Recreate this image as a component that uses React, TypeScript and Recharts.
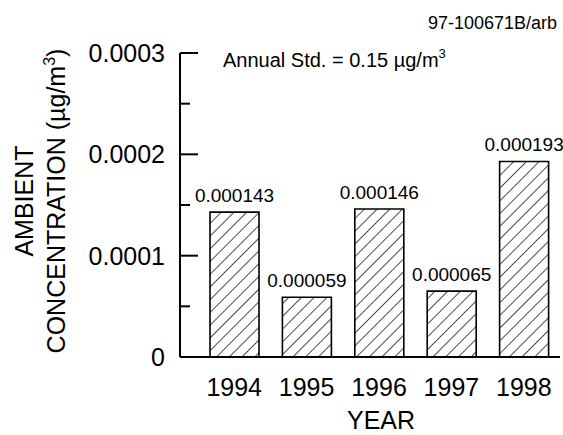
import React from 'react';
import { BarChart, Bar, XAxis, YAxis, LabelList, Label } from 'recharts';

const years = ['1994', '1995', '1996', '1997', '1998'];
const concentrations = [0.000143, 0.000059, 0.000146, 0.000065, 0.000193];
const yTicks = [0, 0.00005, 0.0001, 0.00015, 0.0002, 0.00025, 0.0003];
const yTickLabels = ['0', '', '0.0001', '', '0.0002', '', '0.0003'];
const figureId = '97-100671B/arb';
const annotationText = 'Annual Std. = 0.15 µg/m';
const xTitle = 'YEAR';
const yTitleLine1 = 'AMBIENT';
const yTitleLine2 = 'CONCENTRATION (µg/m';

const data = years.map((year, i) => ({ year, value: concentrations[i] }));

const FONT = '"Liberation Sans", Arial, Helvetica, sans-serif';

const YTick = (props: any) => {
  const { x, y, index } = props;
  const label = yTickLabels[index] ?? '';
  const major = label !== '';
  const axisX = x + 15;
  return (
    <g>
      <line x1={axisX} x2={axisX + (major ? 18 : 10)} y1={y} y2={y} stroke="#000" strokeWidth={2} />
      {major && (
        <text x={x} y={y} dy="0.355em" textAnchor="end" fontSize={25} fill="#000" fontFamily={FONT}>
          {label}
        </text>
      )}
    </g>
  );
};

const XTick = (props: any) => {
  const { x, y, payload } = props;
  return (
    <text x={x} y={y} dy="0.71em" textAnchor="middle" fontSize={25} fill="#000" fontFamily={FONT}>
      {payload.value}
    </text>
  );
};

const YTitle = (props: any) => {
  const vb = props.viewBox || { x: 0, y: 53, width: 180, height: 304 };
  const cy = vb.y + vb.height / 2 - 4;
  const x1 = vb.x + 24;
  const x2 = vb.x + 56;
  return (
    <g fontFamily={FONT} fontSize={25} fill="#000">
      <text x={x1} y={cy} dy="0.358em" textAnchor="middle" transform={`rotate(-90, ${x1}, ${cy})`}>
        {yTitleLine1}
      </text>
      <text x={x2} y={cy} dy="0.358em" textAnchor="middle" transform={`rotate(-90, ${x2}, ${cy})`}>
        {yTitleLine2}
        <tspan dy={-10} fontSize={16}>3</tspan>
        <tspan dy={10}>)</tspan>
      </text>
    </g>
  );
};

const XTitle = (props: any) => {
  const vb = props.viewBox || { x: 180, y: 357, width: 380, height: 78 };
  return (
    <text
      x={vb.x + vb.width / 2 + 11}
      y={vb.y + vb.height - 6}
      textAnchor="middle"
      fontSize={25}
      fill="#000"
      fontFamily={FONT}
    >
      {xTitle}
    </text>
  );
};

export default function App() {
  return (
    <div style={{ position: 'absolute', left: 0, top: 0, width: 563, height: 435, background: '#fff' }}>
      <svg width={0} height={0} style={{ position: 'absolute' }}>
        <defs>
          <pattern id="hatch" patternUnits="userSpaceOnUse" width={9} height={9} patternTransform="rotate(45)">
            <line x1={0} y1={0} x2={0} y2={9} stroke="#000" strokeWidth={1.4} />
          </pattern>
        </defs>
      </svg>
      <BarChart
        width={563}
        height={435}
        data={data}
        margin={{ top: 53, right: 3, bottom: 0, left: 0 }}
      >
        <XAxis
          dataKey="year"
          height={78}
          axisLine={{ stroke: '#000', strokeWidth: 2 }}
          tickLine={false}
          tickSize={0}
          tickMargin={21}
          padding={{ left: 18, right: 0 }}
          tick={<XTick />}
          interval={0}
        >
          <Label content={<XTitle />} position="insideBottom" />
        </XAxis>
        <YAxis
          width={180}
          domain={[0, 0.0003]}
          ticks={yTicks}
          interval={0}
          axisLine={{ stroke: '#000', strokeWidth: 2 }}
          tickLine={false}
          tickSize={0}
          tickMargin={15}
          tick={<YTick />}
        >
          <Label content={<YTitle />} position="insideLeft" />
        </YAxis>
        <Bar
          dataKey="value"
          barSize={49}
          fill="url(#hatch)"
          stroke="#000"
          strokeWidth={1.6}
          isAnimationActive={false}
        >
          <LabelList
            dataKey="value"
            position="top"
            offset={10}
            formatter={(v: any) => Number(v).toFixed(6)}
            fontSize={19}
            fill="#000"
            fontFamily={FONT}
          />
        </Bar>
      </BarChart>
      <svg
        width={563}
        height={435}
        style={{ position: 'absolute', left: 0, top: 0, pointerEvents: 'none' }}
        fontFamily={FONT}
      >
        <text x={557} y={28.5} textAnchor="end" fontSize={18} fill="#000">
          {figureId}
        </text>
        <text x={223} y={67} fontSize={20} fill="#000">
          {annotationText}
          <tspan dy={-9} fontSize={13}>3</tspan>
        </text>
      </svg>
    </div>
  );
}
